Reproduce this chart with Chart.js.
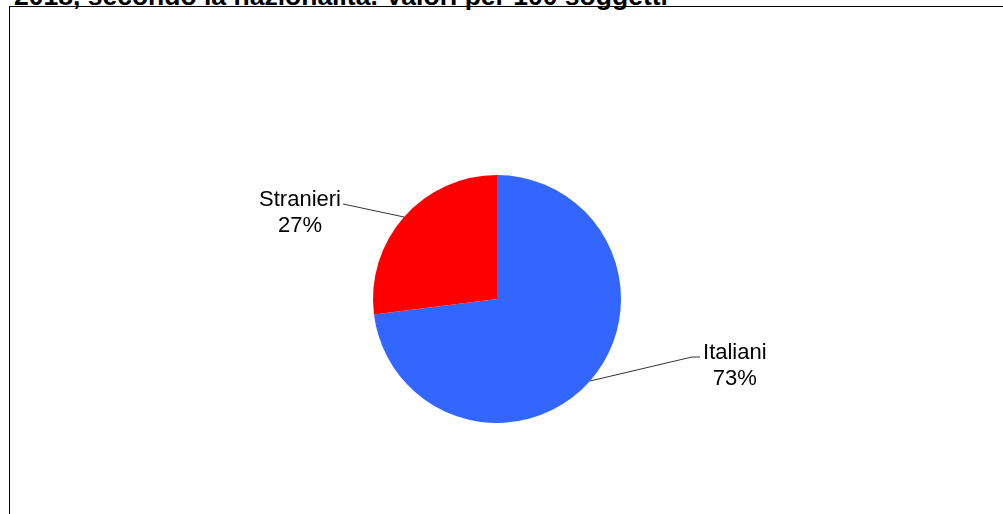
<!DOCTYPE html>
<html>
<head>
<meta charset="utf-8">
<script src="https://cdn.jsdelivr.net/npm/chart.js@4.4.1/dist/chart.umd.min.js"></script>
<style>
  html, body { margin: 0; padding: 0; background: #fff; overflow: hidden; }
  #wrap { position: relative; width: 1003px; height: 514px; overflow: hidden; }
  #title {
    position: absolute; left: 14px; top: -17px; white-space: nowrap;
    font: bold 26.5px/26.5px "Liberation Sans", Arial, sans-serif; color: #000;
  }
  #frame {
    position: absolute; left: 9px; top: 6px; right: -2px; bottom: -2px;
    border-top: 1px solid #000; border-left: 1px solid #000;
  }
  #c { position: absolute; left: 0; top: 0; }
</style>
</head>
<body>
<div id="wrap">
  <div id="title">2018, secondo la nazionalità. Valori per 100 soggetti</div>
  <div id="frame"></div>
  <canvas id="c" width="1003" height="514"></canvas>
</div>
<script>
// dati del grafico
const labels = ['Italiani', 'Stranieri'];
const values = [73, 27];
const colors = ['#3366FF', '#FF0000'];

// etichette esterne con linea di richiamo
const outerLabels = {
  id: 'outerLabels',
  afterDatasetsDraw(chart, args, opts) {
    const ctx = chart.ctx;
    const meta = chart.getDatasetMeta(0);
    ctx.save();
    ctx.font = opts.font;
    ctx.fillStyle = '#000';
    ctx.strokeStyle = '#333';
    ctx.lineWidth = 1;
    meta.data.forEach((arc, i) => {
      const mid = (arc.startAngle + arc.endAngle) / 2;
      const ex = arc.x + Math.cos(mid) * arc.outerRadius;
      const ey = arc.y + Math.sin(mid) * arc.outerRadius;
      const off = opts.offsets[i];
      const bx = ex + off[0], by = ey + off[1];
      const right = Math.cos(mid) > 0;
      const tx = bx + (right ? off[2] : -off[2]);
      ctx.beginPath();
      ctx.moveTo(ex, ey);
      ctx.lineTo(bx, by);
      ctx.lineTo(tx, by);
      ctx.stroke();
      const lines = [labels[i], values[i] + '%'];
      const w = Math.max(...lines.map(l => ctx.measureText(l).width));
      const cx = right ? tx + 3 + w / 2 : tx - 2 - w / 2;
      ctx.textAlign = 'center';
      ctx.textBaseline = 'alphabetic';
      lines.forEach((l, k) => ctx.fillText(l, cx, by + 2 + k * 26));
    });
    ctx.restore();
  }
};

new Chart(document.getElementById('c'), {
  type: 'pie',
  data: {
    labels: labels,
    datasets: [{
      data: values,
      backgroundColor: colors,
      borderWidth: 0,
      hoverOffset: 0,
      radius: 124
    }]
  },
  options: {
    responsive: false,
    animation: false,
    layout: { padding: { top: 175, bottom: 91, left: 300, right: 309 } },
    plugins: {
      legend: { display: false },
      tooltip: { enabled: false },
      outerLabels: {
        font: '22px "Liberation Sans", Arial, sans-serif',
        offsets: [[102, -24, 8], [-61, -13, 0]]
      }
    }
  },
  plugins: [outerLabels]
});
</script>
</body>
</html>
